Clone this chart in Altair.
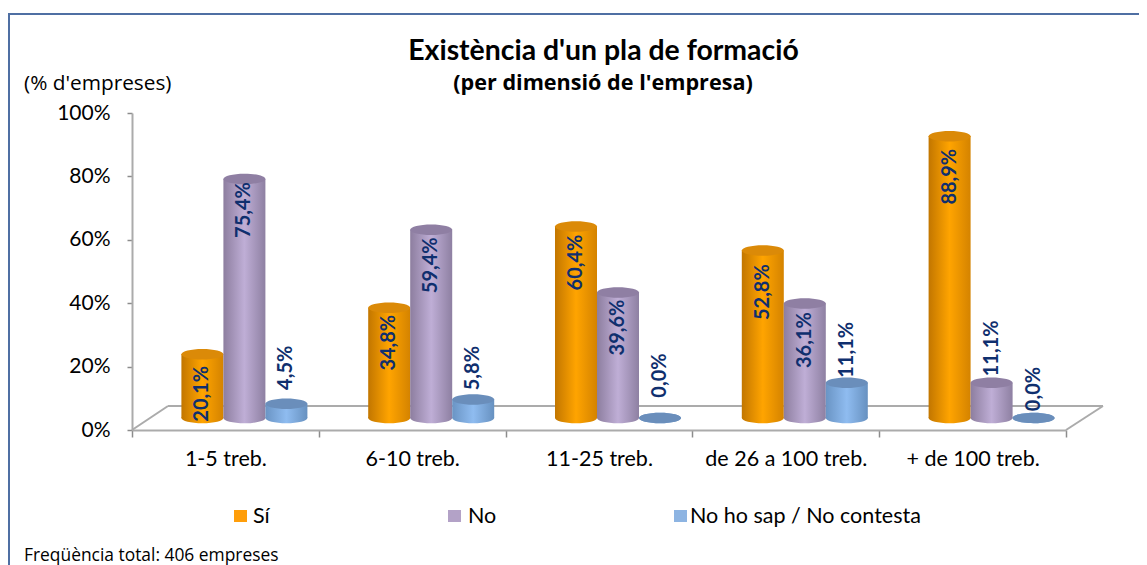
import altair as alt
import pandas as pd

categories = ["1-5 treb.", "6-10 treb.", "11-25 treb.", "de 26 a 100 treb.", "+ de 100 treb."]
series = ["Sí", "No", "No ho sap / No contesta"]
si = [20.1, 34.8, 60.4, 52.8, 88.9]
no = [75.4, 59.4, 39.6, 36.1, 11.1]
nsnc = [4.5, 5.8, 0.0, 11.1, 0.0]
title_text = "Existència d'un pla de formació"
subtitle_text = "(per dimensió de l'empresa)"
unit_text = "(% d'empreses)"
footer_text = "Freqüència total: 406 empreses"

FONT = "Lato"
rows = []
for s, vals in zip(series, [si, no, nsnc]):
    for c, v in zip(categories, vals):
        rows.append({"cat": c, "serie": s, "val": v, "lab": f"{v:.1f}".replace(".", ",") + "%"})
df = pd.DataFrame(rows)

# visual styling per series
def grad(a, b, c):
    return alt.LinearGradient(gradient="linear", x1=0, y1=0, x2=1, y2=0, stops=[
        alt.GradientStop(offset=0, color=a),
        alt.GradientStop(offset=0.5, color=b),
        alt.GradientStop(offset=1, color=c)])

styles = {
    "Sí": (grad("#C27600", "#FFA400", "#D48300"), "#DB8A08"),
    "No": (grad("#8D7E9F", "#BFAED6", "#8E80A2"), "#8F7FA3"),
    "No ho sap / No contesta": (grad("#6A94C4", "#8FBCF0", "#6791C0"), "#6A8EBB"),
}
legend_pos = {"Sí": (234, 253, "#FF9E0A"), "No": (448, 468, "#B3A2C7"),
              "No ho sap / No contesta": (674, 690, "#8DB4E2")}
# pixel nudges of the value labels from the top of their cylinder
nudges = {("Sí", 0): 39.5, ("No", 0): 31, (series[2], 0): -36,
          ("Sí", 1): 35, ("No", 1): 35.5, (series[2], 1): -31.5,
          ("Sí", 2): 36, ("No", 2): 35, (series[2], 2): -42.5,
          ("Sí", 3): 41.5, ("No", 3): 36.5, (series[2], 3): -33,
          ("Sí", 4): 40.5, ("No", 4): -34.5, (series[2], 4): -29}

W, H = 934, 317
LEFT, TOP = 132, 113   # page position of the plot area
SHIFT_X, SHIFT_Y = 19, -12
BAR = 42
ELL = "M-1,0A1,0.25 0 1,0 1,0A1,0.25 0 1,0 -1,0Z"

def px(v):
    return alt.value(v - LEFT)
def py(v):
    return alt.value(v - TOP)

x_enc = alt.X("cat:N", sort=categories, title=None,
              scale=alt.Scale(domain=categories, paddingInner=0, paddingOuter=0),
              axis=alt.Axis(labelAngle=0, labelFont=FONT, labelFontSize=21.5, labelColor="#000000",
                            labelPadding=11, domainColor="#ABABAB", domainWidth=2,
                            tickColor="#8C8C8C", tickWidth=1.5, tickSize=7, tickBand="extent",
                            labelLimit=300))
y_enc = alt.Y("val:Q", title=None, scale=alt.Scale(domain=[0, 100], nice=False),
              axis=alt.Axis(values=[0, 20, 40, 60, 80, 100], labelExpr="datum.value + '%'",
                            labelFont=FONT, labelFontSize=21, labelColor="#000000", labelPadding=17,
                            domainColor="#ABABAB", domainWidth=2, tickColor="#8C8C8C", tickWidth=1.5,
                            tickSize=5, grid=False))
outer = W / 5 - 3 * BAR
xo = alt.XOffset("serie:N", sort=series, title=None,
                 scale=alt.Scale(domain=series, paddingInner=0, paddingOuter=outer / (2 * BAR),
                                 align=(outer / 2 + SHIFT_X) / outer))

base = alt.Chart(pd.DataFrame({"a": [0]}))
layers = []

# chart frame (no fill, so it does not hide the axes beneath it)
layers.append(base.mark_rect(fillOpacity=0, stroke="#4F6FA3", strokeWidth=2).encode(
    x=px(9), x2=px(1141), y=py(14), y2=py(640)))

# floor
for (x1, y1, x2, y2) in [(168, 406, 1103, 406), (132, 430, 168, 406), (1066, 430, 1103, 406)]:
    layers.append(base.mark_rule(color="#ABABAB", strokeWidth=2).encode(
        x=px(x1), x2=px(x2), y=py(y1), y2=py(y2)))

# cylinders
for s in series:
    body, top = styles[s]
    d = df[df.serie == s]
    zero = d.assign(val=0.0)
    layers.append(alt.Chart(zero).mark_point(shape=ELL, size=BAR ** 2, filled=True, fill=body, opacity=1,
                                             strokeWidth=0, yOffset=SHIFT_Y).encode(
        x=x_enc, xOffset=xo, y=y_enc))
    layers.append(alt.Chart(d).mark_bar(fill=body, yOffset=SHIFT_Y).encode(
        x=x_enc, xOffset=xo, y=y_enc))
    layers.append(alt.Chart(d).mark_point(shape=ELL, size=BAR ** 2, filled=True, fill=top, opacity=1,
                                          strokeWidth=0, yOffset=SHIFT_Y).encode(
        x=x_enc, xOffset=xo, y=y_enc))

# value labels
for s in series:
    d = df[df.serie == s].reset_index(drop=True)
    for i in range(len(d)):
        layers.append(alt.Chart(d.iloc[[i]]).mark_text(
            angle=270, font=FONT, fontSize=20, fontWeight="bold", color="#0F2F6E",
            yOffset=SHIFT_Y + nudges[(s, i)]).encode(
            x=x_enc, xOffset=xo, y=y_enc, text="lab:N"))

# legend
for s in series:
    xs, xt, col = legend_pos[s]
    layers.append(base.mark_rect(fill=col).encode(x=px(xs), x2=px(xs + 13), y=py(510), y2=py(522)))
    layers.append(alt.Chart(pd.DataFrame({"t": [s]})).mark_text(
        align="left", baseline="middle", font=FONT, fontSize=21.5, color="#000000").encode(
        x=px(xt), y=py(517), text="t:N"))

# free texts
def free(text, x, y, font, size, weight="normal", align="left"):
    return alt.Chart(pd.DataFrame({"t": [text]})).mark_text(
        align=align, baseline="middle", font=font, fontSize=size, fontWeight=weight, color="#000000").encode(
        x=px(x), y=py(y), text="t:N")

layers.append(free(title_text, 603.5, 51, FONT, 28.4, "bold", "center"))
layers.append(free(subtitle_text, 603, 84, "Open Sans", 21.6, "bold", "center"))
layers.append(free(unit_text, 24, 84, "Open Sans", 20.8))
layers.append(free(footer_text, 24, 556, "Open Sans", 17.4))

chart = alt.layer(*layers).resolve_scale(x="shared", y="shared").properties(
    width=W, height=H,
    padding={"left": LEFT - 8, "top": TOP - 8, "right": 1139 - LEFT - W, "bottom": 565 - TOP - H},
    autosize=alt.AutoSizeParams(type="none"),
    background="#FFFFFF",
).configure_view(stroke=None)

chart.save("out.html", embed_options={"renderer": "svg", "actions": False})
